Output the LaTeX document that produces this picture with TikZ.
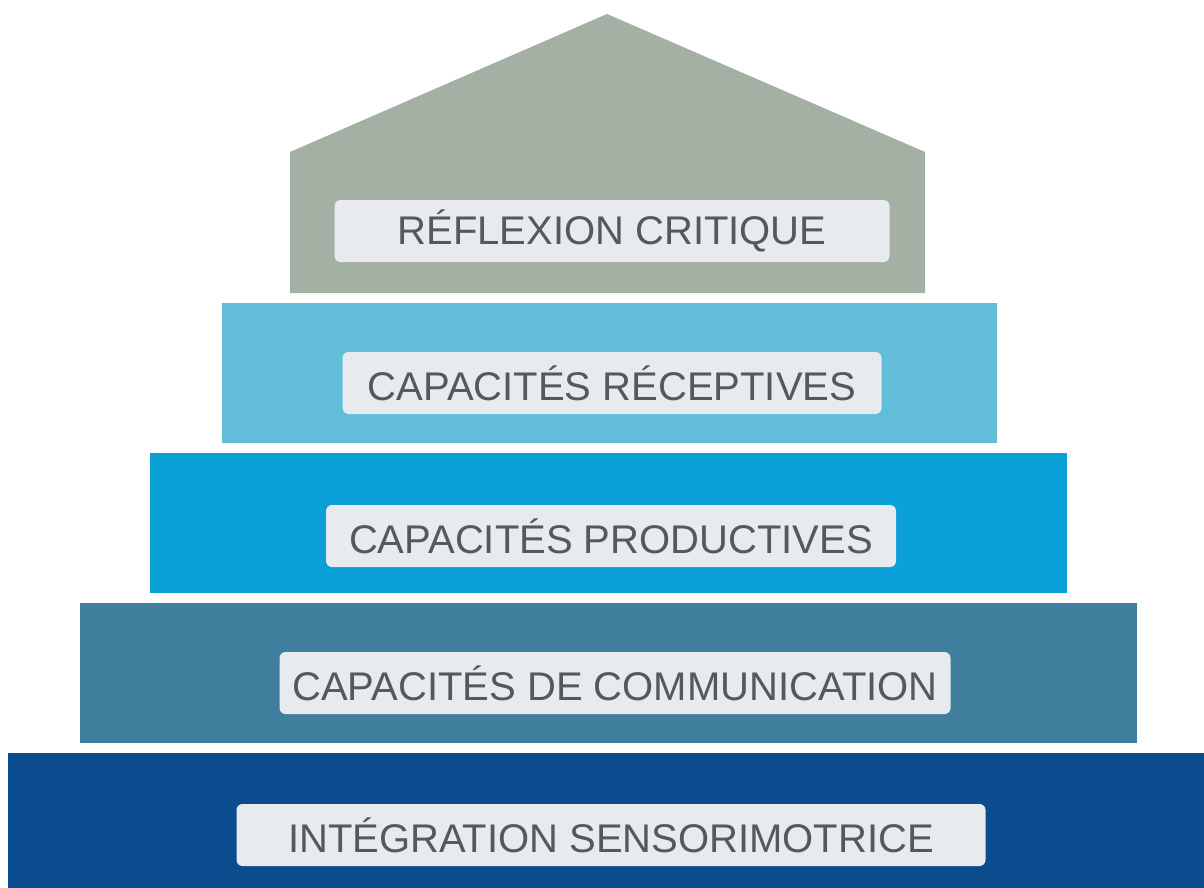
\documentclass[tikz,border=0pt]{standalone}
\usepackage{fontspec}
\setmainfont{Liberation Sans}
\usepackage{tikz}

\definecolor{roofgray}{HTML}{A5B0A5}
\definecolor{recepblue}{HTML}{62BDD9}
\definecolor{prodblue}{HTML}{0BA0D8}
\definecolor{commblue}{HTML}{3F7E9C}
\definecolor{sensblue}{HTML}{0B4C8E}
\definecolor{tagfill}{HTML}{E7EBED}
\definecolor{tagtext}{HTML}{55595C}

\begin{document}
\begin{tikzpicture}[x=0.5pt,y=-0.5pt,
	layer/.style={rectangle,inner sep=0pt,anchor=north west},
	tag/.style={rectangle,rounded corners=3pt,fill=tagfill,text=tagtext,
		font=\fontsize{20}{23}\selectfont,inner xsep=4pt,minimum height=31pt}]
		\useasboundingbox (0,0) rectangle (1204,888);
		\fill[white] (0,0) rectangle (1204,888);
		% roof
		\fill[roofgray] (290,293) -- (290,152) -- (607,14) -- (925,152) -- (925,293) -- cycle;
		\node[layer,fill=recepblue,minimum width=387.5pt,minimum height=70pt] (recep) at (222,303) {};
		\node[layer,fill=prodblue,minimum width=458.5pt,minimum height=70pt] (prod) at (150,453) {};
		\node[layer,fill=commblue,minimum width=528.5pt,minimum height=70pt] (comm) at (80,603) {};
		\node[layer,fill=sensblue,minimum width=598pt,minimum height=67.5pt] (sens) at (8,753) {};
		% labels
		\node[tag,minimum width=277.5pt] (critique) at (612,231) {RÉFLEXION CRITIQUE};
		\node[tag,minimum width=269.5pt] (receptive) at (612,383) {CAPACITÉS RÉCEPTIVES};
		\node[tag,minimum width=285pt] (productive) at (611,536) {CAPACITÉS PRODUCTIVES};
		\node[tag,minimum width=335.5pt] (communication) at (615,683) {CAPACITÉS DE COMMUNICATION};
		\node[tag,minimum width=374.5pt] (sensori) at (611,835) {INTÉGRATION SENSORIMOTRICE};
	\end{tikzpicture}
\end{document}
